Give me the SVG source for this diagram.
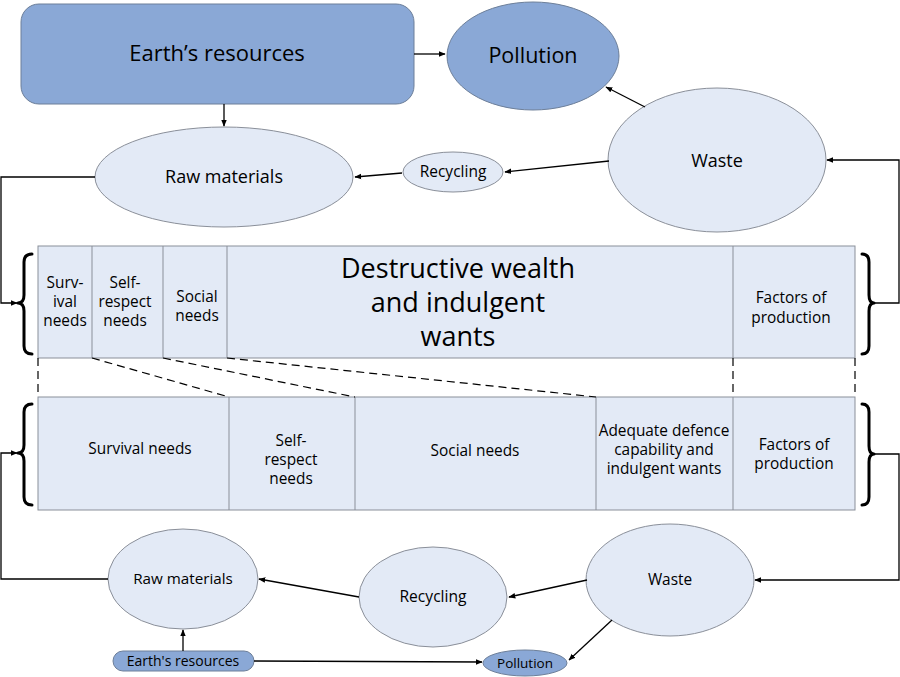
<svg xmlns="http://www.w3.org/2000/svg" width="900" height="677" viewBox="0 0 900 677">
<defs>
<marker id="ah" viewBox="0 0 10 10" refX="9" refY="5" markerWidth="7" markerHeight="7" orient="auto" markerUnits="userSpaceOnUse">
<path d="M0,1 L10,5 L0,9 z" fill="#000"/>
</marker>
<style>
.dark{fill:#8aa8d6;stroke:#6d7f99;stroke-width:1}
.light{fill:#e3eaf6;stroke:#8a8f99;stroke-width:1}
.cell{fill:#e3eaf6;stroke:#8a8f99;stroke-width:1}
.div{stroke:#8a8f99;stroke-width:1}
.t{font-family:"Open Sans","Noto Sans","DejaVu Sans",sans-serif;fill:#000;text-anchor:middle}
.c{fill:none;stroke:#000;stroke-width:1.3}
.ca{fill:none;stroke:#000;stroke-width:1.3;marker-end:url(#ah)}
.dash{fill:none;stroke:#000;stroke-width:1.2;stroke-dasharray:8,5}
.brace{fill:none;stroke:#000;stroke-width:3;stroke-linecap:round;stroke-linejoin:round}
</style>
</defs>

<g id="earth-top">
<rect class="dark" x="21" y="4" width="393" height="100" rx="18"/>
<text class="t" x="217" y="61" font-size="22">Earth’s resources</text>
</g>
<g id="pollution-top">
<ellipse class="dark" cx="533" cy="56" rx="86" ry="54"/>
<text class="t" x="533" y="63" font-size="21.5">Pollution</text>
</g>
<g id="raw-top">
<ellipse class="light" cx="224" cy="177" rx="129" ry="50"/>
<text class="t" x="224" y="183" font-size="18">Raw materials</text>
</g>
<g id="recycling-top">
<ellipse class="light" cx="453" cy="172" rx="50" ry="20"/>
<text class="t" x="453" y="177" font-size="15.5">Recycling</text>
</g>
<g id="waste-top">
<ellipse class="light" cx="717" cy="160" rx="109" ry="72"/>
<text class="t" x="717" y="167" font-size="18">Waste</text>
</g>

<g id="band-top">
<rect class="cell" x="38" y="246" width="817" height="112"/>
<line class="div" x1="92" y1="246" x2="92" y2="358"/>
<line class="div" x1="163" y1="246" x2="163" y2="358"/>
<line class="div" x1="227" y1="246" x2="227" y2="358"/>
<line class="div" x1="733" y1="246" x2="733" y2="358"/>
<text class="t" font-size="15.4"><tspan x="65" y="288">Surv-</tspan><tspan x="65" y="307">ival</tspan><tspan x="65" y="326">needs</tspan></text>
<text class="t" font-size="15.4"><tspan x="125" y="288">Self-</tspan><tspan x="125" y="307">respect</tspan><tspan x="125" y="326">needs</tspan></text>
<text class="t" font-size="15.4"><tspan x="197" y="302">Social</tspan><tspan x="197" y="321">needs</tspan></text>
<text class="t" font-size="27"><tspan x="458" y="278">Destructive wealth</tspan><tspan x="458" y="312">and indulgent</tspan><tspan x="458" y="346">wants</tspan></text>
<text class="t" font-size="15.4"><tspan x="791" y="303">Factors of</tspan><tspan x="791" y="323">production</tspan></text>
</g>

<g id="band-bottom">
<rect class="cell" x="38" y="397" width="817" height="113"/>
<line class="div" x1="229" y1="397" x2="229" y2="510"/>
<line class="div" x1="355" y1="397" x2="355" y2="510"/>
<line class="div" x1="596" y1="397" x2="596" y2="510"/>
<line class="div" x1="733" y1="397" x2="733" y2="510"/>
<text class="t" x="140" y="454" font-size="15.4">Survival needs</text>
<text class="t" font-size="15.4"><tspan x="291" y="446">Self-</tspan><tspan x="291" y="465">respect</tspan><tspan x="291" y="484">needs</tspan></text>
<text class="t" x="475" y="456" font-size="15.4">Social needs</text>
<text class="t" font-size="15.4"><tspan x="664" y="436">Adequate defence</tspan><tspan x="664" y="455">capability and</tspan><tspan x="664" y="474">indulgent wants</tspan></text>
<text class="t" font-size="15.4"><tspan x="794" y="450">Factors of</tspan><tspan x="794" y="469">production</tspan></text>
</g>

<g id="raw-bottom">
<ellipse class="light" cx="183" cy="579" rx="75" ry="50"/>
<text class="t" x="183" y="584" font-size="15.2">Raw materials</text>
</g>
<g id="recycling-bottom">
<ellipse class="light" cx="433" cy="597" rx="74" ry="50"/>
<text class="t" x="433" y="602" font-size="15.6">Recycling</text>
</g>
<g id="waste-bottom">
<ellipse class="light" cx="670" cy="580" rx="84" ry="56"/>
<text class="t" x="670" y="585" font-size="15.4">Waste</text>
</g>
<g id="earth-bottom">
<rect class="dark" x="113" y="651" width="141" height="20" rx="10"/>
<text class="t" x="183" y="666" font-size="14">Earth's resources</text>
</g>
<g id="pollution-bottom">
<ellipse class="dark" cx="525" cy="663" rx="42" ry="13"/>
<text class="t" x="525" y="667.5" font-size="13.5">Pollution</text>
</g>

<g id="braces">
<path class="brace" d="M32,254 Q24,254 24,262 L24,295 Q24,303 18,303 Q24,303 24,311 L24,346 Q24,354 32,354"/>
<path class="brace" d="M32,404 Q24,404 24,412 L24,445 Q24,453 18,453 Q24,453 24,461 L24,497 Q24,505 32,505"/>
<path class="brace" d="M862,254 Q869,254 869,262 L869,295 Q869,303 874,303 Q869,303 869,311 L869,346 Q869,354 862,354"/>
<path class="brace" d="M862,404 Q869,404 869,412 L869,446 Q869,454 874,454 Q869,454 869,462 L869,497 Q869,505 862,505"/>
</g>

<g id="connectors">
<path class="ca" d="M414,54 L445,54"/>
<path class="ca" d="M224,104 L224,126"/>
<path class="ca" d="M402,173 L355,177"/>
<path class="ca" d="M609,161 L505,172"/>
<path class="ca" d="M645,107 L606,87"/>
<path class="ca" d="M875,303 L899,303 L899,160 L827,160"/>
<path class="ca" d="M95,177 L1,177 L1,303 L17,303"/>
<path class="dash" d="M38,358 L38,397"/>
<path class="dash" d="M92,358 L229,397"/>
<path class="dash" d="M163,358 L355,397"/>
<path class="dash" d="M227,358 L596,397"/>
<path class="dash" d="M733,358 L733,397"/>
<path class="dash" d="M855,358 L855,397"/>
<path class="ca" d="M875,454 L899,454 L899,580 L755,580"/>
<path class="ca" d="M108,579 L1,579 L1,453 L17,453"/>
<path class="ca" d="M587,580 L509,597"/>
<path class="ca" d="M359,597 L259,579"/>
<path class="ca" d="M183,651 L183,630"/>
<path class="ca" d="M254,661 L482,662"/>
<path class="ca" d="M612,620 L569,660"/>
</g>
</svg>
